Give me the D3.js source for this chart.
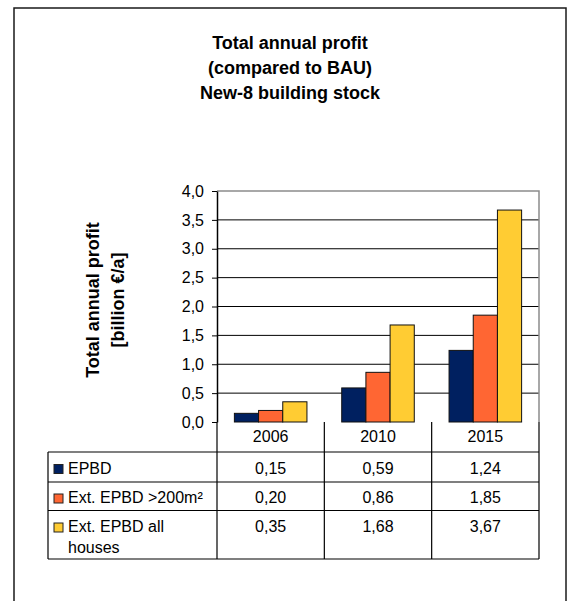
<!DOCTYPE html>
<html>
<head>
<meta charset="utf-8">
<script src="https://cdn.jsdelivr.net/npm/d3@7/dist/d3.min.js"></script>
<style>
  html, body { margin: 0; padding: 0; background: #fff; }
  svg { display: block; }
  text { font-family: "Liberation Sans", Arial, sans-serif; fill: #000; }
</style>
</head>
<body>
<svg id="chart" width="575" height="601"></svg>
<script>
// Total annual profit compared to BAU, New-8 building stock (billion €/a)
const categories = ["2006", "2010", "2015"];
const seriesNames = ["EPBD", "Ext. EPBD >200m²", "Ext. EPBD all houses"];
const seriesLabelLines = [["EPBD"], ["Ext. EPBD >200m²"], ["Ext. EPBD all", "houses"]];
const epbd = [0.15, 0.59, 1.24];
const extEpbd200 = [0.20, 0.86, 1.85];
const extEpbdAll = [0.35, 1.68, 3.67];
const seriesColors = ["#002060", "#FF6633", "#FFCC33"];
const yTicks = [0, 0.5, 1.0, 1.5, 2.0, 2.5, 3.0, 3.5, 4.0];
const titleLines = ["Total annual profit", "(compared to BAU)", "New-8 building stock"];
const yTitleLines = ["Total annual profit", "[billion €/a]"];

const seriesValues = [epbd, extEpbd200, extEpbdAll];

const locale = d3.formatLocale({ decimal: ",", thousands: ".", grouping: [3], currency: ["", "€"] });
const fmt1 = locale.format(".1f");
const fmt2 = locale.format(".2f");

const svg = d3.select("#chart");

// outer chart frame (bottom edge runs past the page)
svg.append("rect")
  .attr("x", 14).attr("y", 8)
  .attr("width", 552).attr("height", 620)
  .attr("fill", "none").attr("stroke", "#1a1a1a").attr("stroke-width", 1.5);

// title
svg.append("g").selectAll("text").data(titleLines).join("text")
  .attr("x", 290).attr("y", (d, i) => 49 + i * 25)
  .attr("text-anchor", "middle")
  .attr("font-size", 18).attr("font-weight", "bold")
  .text(d => d);

// plot area
const plot = { left: 217, right: 539, top: 191, bottom: 422 };

const x = d3.scaleBand()
  .domain(categories)
  .range([plot.left, plot.right])
  .paddingInner(0.324)
  .paddingOuter(0.162);

const xSub = d3.scaleBand()
  .domain(seriesNames)
  .range([0, x.bandwidth()]);

const y = d3.scaleLinear().domain([0, 4]).range([plot.bottom, plot.top]);

// horizontal gridlines
svg.append("g").selectAll("line").data(yTicks.filter(t => t > 0 && t < 4)).join("line")
  .attr("x1", plot.left).attr("x2", plot.right)
  .attr("y1", d => y(d)).attr("y2", d => y(d))
  .attr("stroke", "#000").attr("stroke-width", 1);

// plot border (top and right)
svg.append("path")
  .attr("d", `M${plot.left},${y(4)}H${plot.right}V${plot.bottom}`)
  .attr("fill", "none").attr("stroke", "#8c8c8c").attr("stroke-width", 1.5);

// bars
const groups = svg.append("g").selectAll("g").data(seriesNames).join("g")
  .attr("fill", (d, i) => seriesColors[i]);

groups.selectAll("rect")
  .data((s, si) => categories.map((c, ci) => ({ c, s, v: seriesValues[si][ci] })))
  .join("rect")
  .attr("x", d => x(d.c) + xSub(d.s))
  .attr("y", d => y(d.v))
  .attr("width", xSub.bandwidth())
  .attr("height", d => y(0) - y(d.v))
  .attr("stroke", "#111").attr("stroke-width", 1);

// y axis
const yAxis = d3.axisLeft(y)
  .tickValues(yTicks)
  .tickFormat(fmt1)
  .tickSizeInner(5)
  .tickSizeOuter(0)
  .tickPadding(8);

const gy = svg.append("g")
  .attr("transform", `translate(${plot.left},0)`)
  .call(yAxis);
gy.select(".domain").attr("stroke", "#000").attr("stroke-width", 1.5);
gy.selectAll(".tick line").attr("stroke", "#000");
gy.selectAll(".tick text")
  .attr("font-size", 16)
  .attr("font-family", "'Liberation Sans', Arial, sans-serif")
  .attr("fill", "#000");

// y axis title
svg.append("g").selectAll("text").data(yTitleLines).join("text")
  .attr("transform", (d, i) => `translate(${99 + i * 25},300) rotate(-90)`)
  .attr("text-anchor", "middle")
  .attr("font-size", 18).attr("font-weight", "bold")
  .text(d => d);

// data table below the axis
const step = x.step();
const colEdges = d3.range(categories.length + 1).map(i => plot.left + i * step);
const tableLeft = 48;
const rowEdges = [452, 482, 510.5, 559];
const headerTop = plot.bottom;

const table = svg.append("g").attr("stroke", "#000").attr("stroke-width", 1.2);

// header row column separators
table.selectAll("line.hdr").data(colEdges).join("line").attr("class", "hdr")
  .attr("x1", d => d).attr("x2", d => d)
  .attr("y1", headerTop).attr("y2", rowEdges[0]);

// row separators
table.selectAll("line.row").data(rowEdges).join("line").attr("class", "row")
  .attr("x1", tableLeft).attr("x2", colEdges[colEdges.length - 1])
  .attr("y1", d => d).attr("y2", d => d);

// column separators in the legend rows
table.selectAll("line.col").data([tableLeft].concat(colEdges)).join("line").attr("class", "col")
  .attr("x1", d => d).attr("x2", d => d)
  .attr("y1", rowEdges[0]).attr("y2", rowEdges[rowEdges.length - 1]);

// category labels
svg.append("g").selectAll("text").data(categories).join("text")
  .attr("x", d => x(d) + x.bandwidth() / 2)
  .attr("y", 442)
  .attr("text-anchor", "middle")
  .attr("font-size", 16)
  .text(d => d);

// legend keys, series names and values
const rowBaselines = [473.5, 503, 532];
const rows = svg.append("g").selectAll("g").data(seriesNames).join("g");

rows.append("rect")
  .attr("x", 54).attr("y", (d, i) => rowBaselines[i] - 9)
  .attr("width", 9).attr("height", 9)
  .attr("fill", (d, i) => seriesColors[i])
  .attr("stroke", "#222").attr("stroke-width", 1);

rows.each(function (d, i) {
  d3.select(this).selectAll("text.name").data(seriesLabelLines[i]).join("text")
    .attr("class", "name")
    .attr("x", 68).attr("y", (t, j) => rowBaselines[i] + j * 20.5)
    .attr("font-size", 16)
    .text(t => t);
  d3.select(this).selectAll("text.val").data(seriesValues[i]).join("text")
    .attr("class", "val")
    .attr("x", (v, j) => x(categories[j]) + x.bandwidth() / 2)
    .attr("y", rowBaselines[i])
    .attr("text-anchor", "middle")
    .attr("font-size", 16)
    .text(v => fmt2(v));
});
</script>
</body>
</html>
